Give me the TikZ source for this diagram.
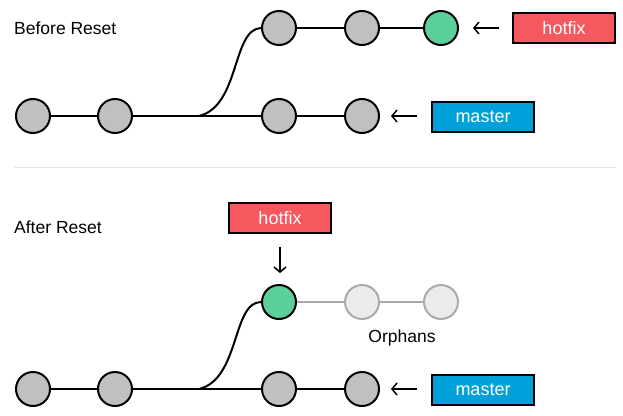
\documentclass[tikz,border=0pt]{standalone}
\usepackage{fontspec}
\setmainfont{Liberation Sans}
\usetikzlibrary{arrows.meta}
\definecolor{cgray}{HTML}{C0C0C0}
\definecolor{cgreen}{HTML}{5CD09A}
\definecolor{cred}{HTML}{F5585E}
\definecolor{cblue}{HTML}{00A0DA}
\definecolor{ofill}{HTML}{EBEBEB}
\definecolor{oline}{HTML}{AAAAAA}
\definecolor{divc}{HTML}{E6E6E6}
\begin{document}
\begin{tikzpicture}[x=1pt,y=-1pt,
  commit/.style={circle,draw=black,line width=2pt,fill=cgray,minimum size=34pt,inner sep=0pt},
  head/.style={commit,fill=cgreen},
  orphan/.style={commit,draw=oline,fill=ofill},
  link/.style={line width=2pt,draw=black},
  olink/.style={line width=2pt,draw=oline},
  branchbox/.style={draw=black,line width=2pt,minimum width=102pt,minimum height=30pt,inner sep=0pt,text=white,font=\fontsize{18}{21}\selectfont},
  ptr/.style={line width=1.5pt,-{Straight Barb[length=5pt,width=12pt,line width=1.5pt]}},
  title/.style={anchor=west,inner sep=0pt,font=\fontsize{17.5}{20}\selectfont}]
\useasboundingbox (0,0) rectangle (623,415);
% ---------- Before ----------
\node[title] (t1) at (14,28) {Before Reset};
\node[commit] (a1) at (33,116) {};
\node[commit] (a2) at (115,116) {};
\node[commit] (a3) at (279,116) {};
\node[commit] (a4) at (362,116) {};
\node[commit] (b1) at (279,28) {};
\node[commit] (b2) at (362,28) {};
\node[head] (b3) at (441,28) {};
\coordinate (fork1) at (199,116);
\draw[link] (a1) -- (a2);
\draw[link] (a2) -- (a3);
\draw[link] (a3) -- (a4);
\draw[link] (fork1) .. controls (240,106) and (232,29) .. (b1.west);
\draw[link] (b1) -- (b2);
\draw[link] (b2) -- (b3);
\node[branchbox,fill=cred] (h1) at (564,28) {hotfix};
\node[branchbox,fill=cblue] (m1) at (483,117) {master};
\coordinate (h1s) at (499,28);
\coordinate (h1e) at (473,28);
\coordinate (m1s) at (417,116);
\coordinate (m1e) at (391,116);
\draw[ptr] (h1s) -- (h1e);
\draw[ptr] (m1s) -- (m1e);
% divider
\coordinate (d1) at (14,167);
\coordinate (d2) at (616,167);
\draw[divc,line width=1pt] (d1) -- (d2);
% ---------- After ----------
\node[title] (t2) at (14,227) {After Reset};
\node[commit] (c1) at (33,389) {};
\node[commit] (c2) at (115,389) {};
\node[commit] (c3) at (279,389) {};
\node[commit] (c4) at (362,389) {};
\node[head] (e1) at (279,302) {};
\node[orphan] (e2) at (362,302) {};
\node[orphan] (e3) at (441,302) {};
\coordinate (fork2) at (199,389);
\draw[link] (c1) -- (c2);
\draw[link] (c2) -- (c3);
\draw[link] (c3) -- (c4);
\draw[link] (fork2) .. controls (240,379) and (232,302) .. (e1.west);
\draw[olink] (e1) -- (e2);
\draw[olink] (e2) -- (e3);
\node[inner sep=0pt,font=\fontsize{17.5}{20}\selectfont] (orph) at (402,338) {Orphans};
\node[branchbox,fill=cred] (h2) at (280,218) {hotfix};
\node[branchbox,fill=cblue] (m2) at (483,390) {master};
\coordinate (h2s) at (280,247);
\coordinate (h2e) at (280,273);
\coordinate (m2s) at (417,389);
\coordinate (m2e) at (391,389);
\draw[ptr] (h2s) -- (h2e);
\draw[ptr] (m2s) -- (m2e);
\end{tikzpicture}
\end{document}
